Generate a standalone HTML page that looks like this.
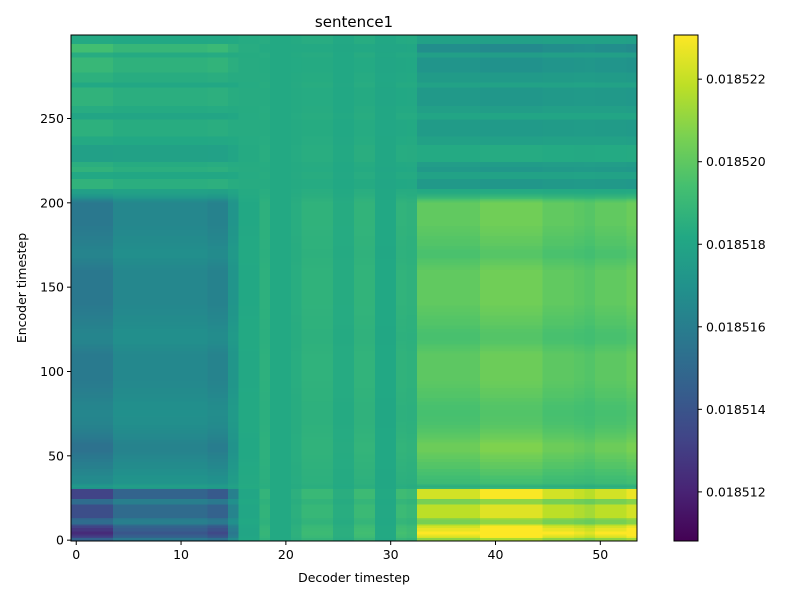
<!DOCTYPE html>
<html><head><meta charset="utf-8"><style>
body{margin:0;background:#fff;}
svg text{font-family:"DejaVu Sans","Liberation Sans",sans-serif;fill:#000;}
</style></head><body>
<svg id="chart" width="800" height="600" xmlns="http://www.w3.org/2000/svg">
<rect width="800" height="600" fill="#fff"/>
<text x="354" y="27" font-size="15" text-anchor="middle">sentence1</text>
<g id="cells" shape-rendering="crispEdges"></g>
<rect x="71" y="35" width="566" height="506" fill="none" stroke="#000" stroke-width="1"/>
<g id="xticks"></g>
<g id="yticks"></g>
<text x="354" y="582" font-size="12.5" text-anchor="middle">Decoder timestep</text>
<text transform="translate(26,288) rotate(-90)" font-size="12.5" text-anchor="middle">Encoder timestep</text>
<defs><linearGradient id="vir" x1="0" y1="1" x2="0" y2="0"></linearGradient></defs>
<rect x="674" y="35" width="24" height="506" fill="url(#vir)" stroke="#000" stroke-width="1"/>
<g id="cticks"></g>
</svg>
<script>
// data (values in units of 1e-6; value = (colBase + rowDev*colWeight) * 1e-6)
const xTicks=[0,10,20,30,40,50];
const yTicks=[0,50,100,150,200,250];
const cTicks=[0.018512,0.018514,0.018516,0.018518,0.018520,0.018522];
const cTickLabels=["0.018512","0.018514","0.018516","0.018518","0.018520","0.018522"];
const vmin=0.01851081, vmax=0.01852307;
const colWeight=[-0.95,-0.95,-0.95,-0.95,-0.65,-0.65,-0.65,-0.65,-0.65,-0.65,-0.65,-0.65,-0.65,-0.75,-0.75,-0.4,-0.05,-0.05,0.08,0,0,0.05,0.12,0.12,0.12,0.05,0.05,0.15,0.15,0.02,0.02,0.18,0.15,
0.85,0.85,0.85,0.85,0.85,0.85,1,1,1,1,1,1,0.85,0.85,0.85,0.8,0.75,0.85,0.85,0.85,0.95];
const colBase=[18518,18518,18518,18518,18518,18518,18518,18518,18518,18518,18518,18518,18518,18518,18518,18518.1,18518.3,18518.3,18518.4,18518.2,18518.2,18518.3,18518.4,18518.4,18518.4,18518.2,18518.2,18518.4,18518.4,18518.1,18518.1,18518.3,18518.3,
18518,18518,18518,18518,18518,18518,18518,18518,18518,18518,18518,18518,18518,18518,18518,18518,18518,18518,18518,18518,18518];
const rowDev=[3.5,3.5,5,5.5,6,6,5.5,5.5,5,4.5,
3,3,3,3.5,4.5,4.5,4.5,4.5,4.5,4.5,4.5,4.5,3,3,3,5,5,5,5,5,5,1,0.6,1,1.3,
1.4,1.4,1.5,1.5,1.7,1.7,1.8,1.8,2,2,
2.1,2.1,2.25,2.25,2.4,2.4,2.5,2.6,2.7,2.7,
2.7,2.7,2.7,2.6,2.5,2.4,2.3,2.25,2.2,2.1,
2.05,2,1.9,1.9,1.8,1.8,1.75,1.75,1.75,1.7,1.7,1.7,1.7,1.75,1.75,
1.75,1.8,1.8,1.9,1.9,2,2,2.05,2.05,2.1,2.1,2.2,2.2,2.25,2.25,
2.3,2.3,2.3,2.3,2.3,2.3,2.3,2.3,2.3,2.3,2.3,2.3,2.3,2.3,2.3,2.3,
2.25,2.2,2.1,2.05,2,1.9,1.8,1.8,1.75,1.75,1.75,1.75,1.75,1.8,
1.8,1.9,1.9,2,2,2.05,2.05,2.1,2.1,2.2,2.2,2.25,2.25,2.3,2.3,
2.4,2.4,2.4,2.4,2.4,2.4,2.4,2.4,2.4,2.4,2.4,2.4,2.4,2.4,2.4,2.4,2.4,2.4,2.4,2.4,2.4,
2.3,2.25,2.2,2.1,2.05,2,1.9,1.8,1.8,1.8,1.8,1.8,1.9,1.9,
2,2,2.05,2.05,2.1,2.1,2.2,2.2,2.25,2.25,2.3,2.3,2.4,2.4,2.4,
2.4,2.4,2.4,2.4,2.4,2.4,2.4,2.4,2.4,2.4,2.4,
2.1,1.7,1.3,0.9,0.6,0.4,0.25,0.25,
-0.75,-0.75,-0.75,-0.75,-0.75,-0.75,-0.15,-0.15,-0.15,-0.15,-0.75,-0.75,-0.75,-0.5,-0.5,-0.5,
0.3,0.3,0.3,0.3,0.3,0.3,0.3,0.3,0.3,0.3,-0.25,-0.25,-0.25,-0.25,-0.25,
-0.6,-0.6,-0.6,-0.6,-0.6,-0.6,-0.6,-0.6,-0.6,-0.6,0,0,0,0,-0.4,-0.4,-0.4,-0.4,
-0.75,-0.75,-0.75,-0.75,-0.75,-0.75,-0.75,-0.75,-0.75,-0.75,-0.75,-0.15,-0.15,-0.15,
-0.6,-0.6,-0.6,-0.6,-0.6,-0.6,-1,-1,-1,-1,-1,-1,-1,-1,-1,-0.4,-0.4,-0.4,
-1.4,-1.4,-1.4,-1.4,-1.4,-0.25,-0.25,-0.25,-0.25,-0.25];

const NS="http://www.w3.org/2000/svg";
const PL=71,PR=637,PT=35,PB=541;
const nCols=colWeight.length,nRows=rowDev.length;
const cw=(PR-PL)/nCols,rh=(PB-PT)/nRows;
function xScale(v){return PL+(v+0.5)*cw;}
function yScale(v){return PB-(v+0.5)*rh;}
function cScale(v){return PB-(v-vmin)/(vmax-vmin)*(PB-PT);}
const stops=[[68,1,84],[72,36,117],[65,68,135],[53,95,141],[42,120,142],[33,145,140],[34,168,132],[68,191,112],[122,209,81],[189,223,38],[253,231,37]];
function viridis(t){t=Math.max(0,Math.min(1,t));const p=t*10,i=Math.min(9,Math.floor(p)),f=p-i;
const a=stops[i],b=stops[i+1];return "rgb("+a.map((c,k)=>Math.round(c+(b[k]-c)*f)).join(",")+")";}
const g=document.getElementById("cells");
for(let r=0;r<nRows;r++){for(let c=0;c<nCols;c++){
 const val=(colBase[c]+rowDev[r]*colWeight[c])*1e-6;
 const el=document.createElementNS(NS,"rect");
 
 
 const x0=xScale(c-0.5),y0=yScale(r+0.5);
 el.setAttribute("x",x0);el.setAttribute("y",y0);
 el.setAttribute("width",cw+0.4);el.setAttribute("height",rh+0.4);
 el.setAttribute("fill",viridis((val-vmin)/(vmax-vmin)));
 g.appendChild(el);}}
const grad=document.getElementById("vir");
stops.forEach((s,i)=>{const st=document.createElementNS(NS,"stop");st.setAttribute("offset",i/10);st.setAttribute("stop-color","rgb("+s.join(",")+")");grad.appendChild(st);});
const xg=document.getElementById("xticks");
xTicks.forEach(v=>{const x=xScale(v);
 const l=document.createElementNS(NS,"line");
 
 
 l.setAttribute("x1",x);l.setAttribute("x2",x);l.setAttribute("y1",PB);l.setAttribute("y2",PB+4);l.setAttribute("stroke","#000");xg.appendChild(l);
 const t=document.createElementNS(NS,"text");
 
 
 t.setAttribute("x",x);t.setAttribute("y",PB+18);t.setAttribute("font-size","12.5");t.setAttribute("text-anchor","middle");t.textContent=v;xg.appendChild(t);});
const yg=document.getElementById("yticks");
yTicks.forEach(v=>{const y=yScale(v);
 const l=document.createElementNS(NS,"line");
 
 
 l.setAttribute("x1",PL-4);l.setAttribute("x2",PL);l.setAttribute("y1",y);l.setAttribute("y2",y);l.setAttribute("stroke","#000");yg.appendChild(l);
 const t=document.createElementNS(NS,"text");
 
 
 t.setAttribute("x",PL-7);t.setAttribute("y",y+4.5);t.setAttribute("font-size","12.5");t.setAttribute("text-anchor","end");t.textContent=v;yg.appendChild(t);});
const cg=document.getElementById("cticks");
cTicks.forEach((v,i)=>{const y=cScale(v);
 const l=document.createElementNS(NS,"line");
 
 
 l.setAttribute("x1",698);l.setAttribute("x2",702);l.setAttribute("y1",y);l.setAttribute("y2",y);l.setAttribute("stroke","#000");cg.appendChild(l);
 const t=document.createElementNS(NS,"text");
 
 
 t.setAttribute("x",706);t.setAttribute("y",y+4.5);t.setAttribute("font-size","12.5");t.textContent=cTickLabels[i];cg.appendChild(t);});
</script>
</body></html>
